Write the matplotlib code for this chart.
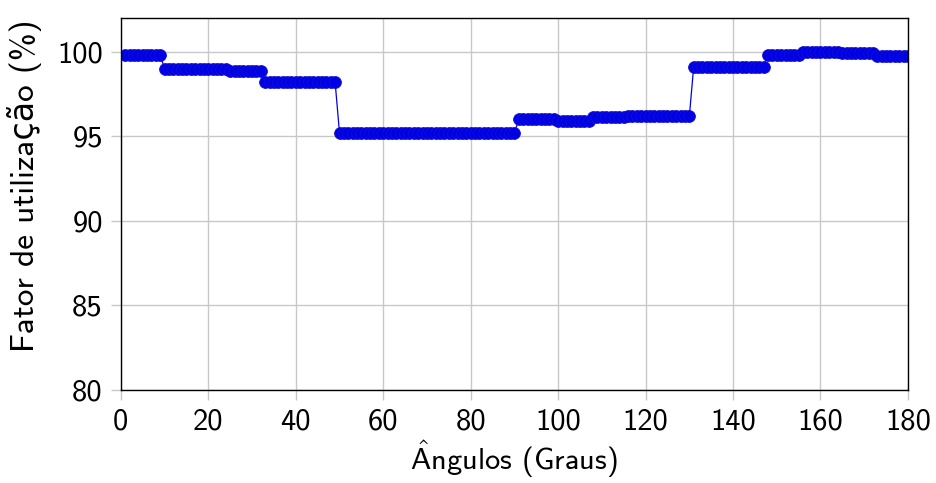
import matplotlib
matplotlib.use("Agg")
import matplotlib.pyplot as plt
import numpy as np

# angle (degrees) and utilisation factor (%)
angles = list(range(1, 181))
utilizacao = ([99.82] * 9 + [98.98] * 15 + [98.84] * 8 + [98.18] * 17 +
              [95.20] * 41 + [96.00] * 9 + [95.93] * 8 + [96.13] * 8 +
              [96.17] * 15 + [99.12] * 17 + [99.80] * 8 + [99.97] * 9 +
              [99.93] * 8 + [99.75] * 8)

x_ticks = [0, 20, 40, 60, 80, 100, 120, 140, 160, 180]
y_ticks = [80, 85, 90, 95, 100]

plt.rcParams['font.family'] = ['cmss10', 'DejaVu Sans']
plt.rcParams['axes.unicode_minus'] = False
plt.rcParams['mathtext.fontset'] = 'cm'

fig = plt.figure(figsize=(9.37, 4.83), dpi=100)
ax = fig.add_axes([0.129, 0.1925, 0.84, 0.7705])

ax.plot(angles, utilizacao, color='#0000e6', linewidth=0.9, marker='o',
        markersize=8.5, markerfacecolor='#0000e6', markeredgecolor='#1010d0',
        markeredgewidth=0.6)

ax.set_xlim(0, 180)
ax.set_ylim(80, 102)
ax.set_xticks(x_ticks)
ax.set_yticks(y_ticks)
ax.grid(True, color='#c8c8c8', linewidth=1.0)
ax.set_axisbelow(True)
ax.tick_params(axis='both', labelsize=22, length=7, width=1.0,
               color='#c8c8c8', direction='out', pad=6)
for s in ax.spines.values():
    s.set_linewidth(1.0)
    s.set_color('black')

# cmss10 has no Â, so build it with mathtext
ax.set_xlabel(r'$\mathsf{\hat{A}}$ngulos (Graus)', fontsize=22, labelpad=2)
ax.set_ylabel('Fator de utilização (%)', fontsize=24)
ax.yaxis.set_label_coords(-0.1, 0.55)

fig.savefig('out.png', dpi=100)
